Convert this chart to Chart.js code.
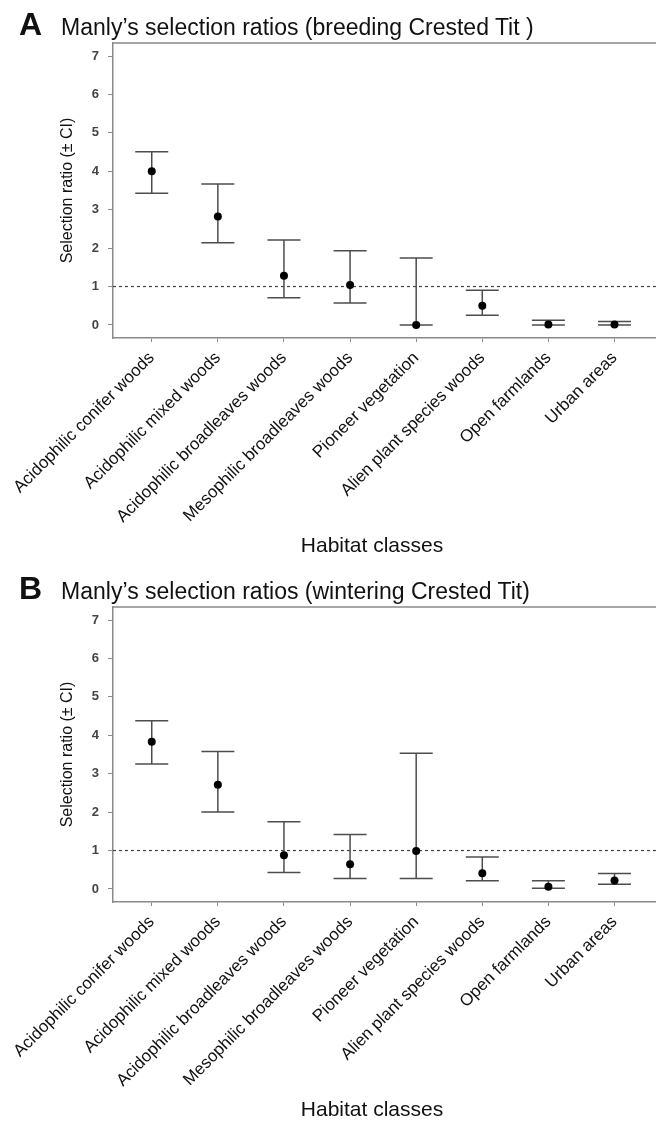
<!DOCTYPE html>
<html lang="en">
<head>
  <meta charset="UTF-8" />
  <title>Manly's selection ratios - Crested Tit</title>
  <script src="https://cdn.jsdelivr.net/npm/chart.js"></script>
  <style>
    html, body { margin: 0; padding: 0; background: #fff; overflow: hidden; }
    body { width: 656px; height: 1127px; position: relative; font-family: "Liberation Sans", Arial, sans-serif; color: #111; }
    .panel { position: absolute; left: 0; width: 680px; height: 564px; }
    .head { position: absolute; left: 19px; top: 8px; white-space: nowrap; z-index: 2; line-height: 1; }
    .letter { font-weight: bold; font-size: 32px; }
    .txt { font-size: 23px; margin-left: 19px; }
    .xtitle { position: absolute; left: 0; width: 744px; top: 534px; text-align: center; font-size: 21px; line-height: 1; }
  </style>
</head>
<body>
  <div class="panel" style="top:0">
    <div class="head"><span class="letter">A</span><span class="txt">Manly’s selection ratios (breeding Crested Tit )</span></div>
    <canvas id="chartA" width="680" height="564"></canvas>
    <div class="xtitle">Habitat classes</div>
  </div>
  <div class="panel" style="top:564px">
    <div class="head"><span class="letter">B</span><span class="txt">Manly’s selection ratios (wintering Crested Tit)</span></div>
    <canvas id="chartB" width="680" height="564"></canvas>
    <div class="xtitle">Habitat classes</div>
  </div>

  <script>
    const habitats = [
      "Acidophilic conifer woods",
      "Acidophilic mixed woods",
      "Acidophilic broadleaves woods",
      "Mesophilic broadleaves woods",
      "Pioneer vegetation",
      "Alien plant species woods",
      "Open farmlands",
      "Urban areas"
    ];

    // breeding season
    const breedRatio = [4.00, 2.82, 1.28, 1.04, 0.00, 0.50, 0.01, 0.01];
    const breedLow   = [3.43, 2.14, 0.71, 0.57, 0.00, 0.25, 0.00, 0.00];
    const breedHigh  = [4.51, 3.67, 2.21, 1.93, 1.74, 0.90, 0.12, 0.09];

    // wintering season
    const winterRatio = [3.83, 2.71, 0.88, 0.64, 0.99, 0.41, 0.06, 0.22];
    const winterLow   = [3.25, 2.00, 0.43, 0.27, 0.27, 0.21, 0.02, 0.12];
    const winterHigh  = [4.38, 3.58, 1.75, 1.42, 3.53, 0.83, 0.21, 0.40];

    const yTicks = [0, 1, 2, 3, 4, 5, 6, 7];
    const refLine = 1;

    const axisGrey = "#8a8a8a";
    const barGrey = "#4d4d4d";

    // whiskers, caps and the dotted line at ratio = 1
    const errorBars = {
      id: "errorBars",
      beforeDatasetsDraw(chart, args, opts) {
        const { ctx, chartArea, scales: { x, y } } = chart;
        ctx.save();
        ctx.strokeStyle = "#444";
        ctx.lineWidth = 1.2;
        ctx.setLineDash([3, 3]);
        ctx.beginPath();
        ctx.moveTo(chartArea.left, y.getPixelForValue(refLine));
        ctx.lineTo(chartArea.right, y.getPixelForValue(refLine));
        ctx.stroke();
        ctx.setLineDash([]);

        ctx.strokeStyle = barGrey;
        ctx.lineWidth = 1.5;
        opts.low.forEach((lo, i) => {
          const px = x.getPixelForValue(i);
          const yl = y.getPixelForValue(lo);
          const yh = y.getPixelForValue(opts.high[i]);
          ctx.beginPath();
          ctx.moveTo(px, yl); ctx.lineTo(px, yh);
          ctx.moveTo(px - 16.5, yl); ctx.lineTo(px + 16.5, yl);
          ctx.moveTo(px - 16.5, yh); ctx.lineTo(px + 16.5, yh);
          ctx.stroke();
        });
        ctx.restore();
      },
      afterDraw(chart) {
        // top edge of the plot frame
        const { ctx, chartArea } = chart;
        ctx.save();
        ctx.strokeStyle = axisGrey;
        ctx.lineWidth = 1.5;
        ctx.beginPath();
        ctx.moveTo(chartArea.left, chartArea.top);
        ctx.lineTo(chartArea.right, chartArea.top);
        ctx.stroke();
        ctx.restore();
      }
    };

    function makeChart(id, ratio, low, high) {
      return new Chart(document.getElementById(id), {
        type: "scatter",
        data: {
          datasets: [{
            data: ratio.map((v, i) => ({ x: i, y: v })),
            backgroundColor: "#000",
            borderWidth: 0,
            pointRadius: 4
          }]
        },
        options: {
          responsive: false,
          animation: false,
          layout: { padding: { top: 43, left: 0, right: 0, bottom: 0 } },
          plugins: {
            legend: { display: false },
            tooltip: { enabled: false },
            errorBars: { low: low, high: high }
          },
          scales: {
            x: {
              type: "linear",
              min: -0.586,
              max: 7.93,
              afterBuildTicks: s => { s.ticks = habitats.map((_, i) => ({ value: i })); },
              afterFit: s => { s.height = 226; s.paddingLeft = 0; s.paddingRight = 0; },
              ticks: {
                autoSkip: false,
                minRotation: 45,
                maxRotation: 45,
                padding: 6,
                color: "#111",
                font: { family: "Liberation Sans", size: 17 },
                callback: v => habitats[v]
              },
              grid: { drawOnChartArea: false, drawTicks: true, tickLength: 4, color: axisGrey },
              border: { color: axisGrey, width: 1.5 }
            },
            y: {
              min: -0.34,
              max: 7.34,
              afterBuildTicks: s => { s.ticks = yTicks.map(v => ({ value: v })); },
              afterFit: s => { s.width = 113; },
              ticks: {
                padding: 9,
                color: "#444",
                font: { family: "Liberation Sans", size: 13, weight: "bold" }
              },
              grid: { drawOnChartArea: false, drawTicks: true, tickLength: 5, color: axisGrey },
              border: { color: axisGrey, width: 1.5 },
              title: {
                display: true,
                text: "Selection ratio (± CI)",
                color: "#111",
                font: { family: "Liberation Sans", size: 16 },
                padding: { top: 58, bottom: 0 }
              }
            }
          }
        },
        plugins: [errorBars]
      });
    }

    makeChart("chartA", breedRatio, breedLow, breedHigh);
    makeChart("chartB", winterRatio, winterLow, winterHigh);
  </script>
</body>
</html>
